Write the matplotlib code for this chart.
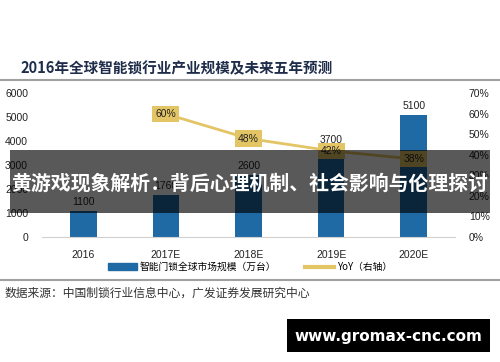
import matplotlib.pyplot as plt
from matplotlib.patches import Rectangle, Patch
from matplotlib.lines import Line2D

plt.rcParams['font.family'] = ['Noto Sans CJK SC', 'DejaVu Sans']

# data
years = ["2016", "2017E", "2018E", "2019E", "2020E"]
market = [1100, 1760, 2600, 3700, 5100]
yoy = [None, 0.60, 0.48, 0.42, 0.38]

title = "2016年全球智能锁行业产业规模及未来五年预测"
source = "数据来源：中国制锁行业信息中心，广发证券发展研究中心"
banner = "黄游戏现象解析：背后心理机制、社会影响与伦理探讨"
bar_name = "智能门锁全球市场规模（万台）"
line_name = "YoY（右轴）"

blue = "#1F6AA5"
gold = "#E3C565"

fig = plt.figure(figsize=(5, 3.62), dpi=100)
ax = fig.add_axes([0.084, 0.3453, 0.826, 0.3967])
x = list(range(len(years)))

ax.bar(x, market, width=0.32, color=blue, zorder=2)
for i, v in enumerate(market):
    ax.text(i, v + 150, str(v), ha="center", va="bottom", fontsize=7.5,
            family="Liberation Sans", color="#222222")
ax.set_xlim(-0.5, 4.5)
ax.set_ylim(0, 6000)
ax.set_yticks(range(0, 6001, 1000))
ax.set_xticks(x)
ax.set_xticklabels(years)
for s in ["top", "right", "left"]:
    ax.spines[s].set_visible(False)
ax.spines["bottom"].set_color("#D0D0D0")
ax.tick_params(length=0, labelsize=7.5, colors="#222222", pad=9)
ax.tick_params(axis="y", pad=10)
for lab in ax.get_xticklabels() + ax.get_yticklabels():
    lab.set_family("Liberation Sans")

ax2 = ax.twinx()
xs = [i for i, v in enumerate(yoy) if v is not None]
ys = [v for v in yoy if v is not None]
ax2.plot(xs, ys, color=gold, lw=2, zorder=3)
for i, v in zip(xs, ys):
    ax2.text(i, v, f"{round(v * 100)}%", ha="center", va="center", fontsize=7.5,
             family="Liberation Sans", color="#222222", zorder=4,
             bbox=dict(boxstyle="square,pad=0.3", fc=gold, ec="none"))
ax2.set_ylim(0, 0.7)
ax2.set_yticks([i / 10 for i in range(8)])
ax2.set_yticklabels([f"{i * 10}%" for i in range(8)])
for s in ["top", "right", "left", "bottom"]:
    ax2.spines[s].set_visible(False)
ax2.tick_params(length=0, labelsize=7.5, colors="#222222", pad=10)
for lab in ax2.get_yticklabels():
    lab.set_family("Liberation Sans")

# title and separators
fig.text(20 / 500, 1 - 68 / 362, title, fontsize=10.5, fontweight="bold",
         color="#1F2D4A", va="center", ha="left")
fig.add_artist(Line2D([0, 1], [1 - 80 / 362] * 2, color="#A0A0A0", lw=1.5))
fig.add_artist(Line2D([0, 1], [1 - 280 / 362] * 2, color="#A0A0A0", lw=1.5))

# legend
handles = [Patch(color=blue), Line2D([], [], color=gold, lw=3)]
fig.legend(handles, [bar_name, line_name], loc="center", ncol=2,
           bbox_to_anchor=(0.5, 1 - 267 / 362), frameon=False, fontsize=7,
           handlelength=3, handleheight=0.7, columnspacing=3, handletextpad=0.3)

fig.text(5 / 500, 1 - 293 / 362, source, fontsize=8.5, color="#333333",
         va="center", ha="left")

# overlay banner
fig.add_artist(Rectangle((10 / 500, 1 - 213 / 362), 480 / 500, 63 / 362,
                         transform=fig.transFigure, fc="black", alpha=0.65,
                         ec="none", zorder=10))
fig.text(0.5, 1 - 183 / 362, banner, fontsize=14.3, fontweight="bold",
         color="white", ha="center", va="center", zorder=11)

# watermark
fig.add_artist(Rectangle((287 / 500, 1 - 352 / 362), 203 / 500, 33 / 362,
                         transform=fig.transFigure, fc="black", ec="none",
                         zorder=10))
fig.text(388 / 500, 1 - 336 / 362, "www.gromax-cnc.com", fontsize=11,
         fontweight="bold", color="white", ha="center", va="center",
         family="DejaVu Sans", zorder=11)

fig.savefig("out.png", dpi=100)
